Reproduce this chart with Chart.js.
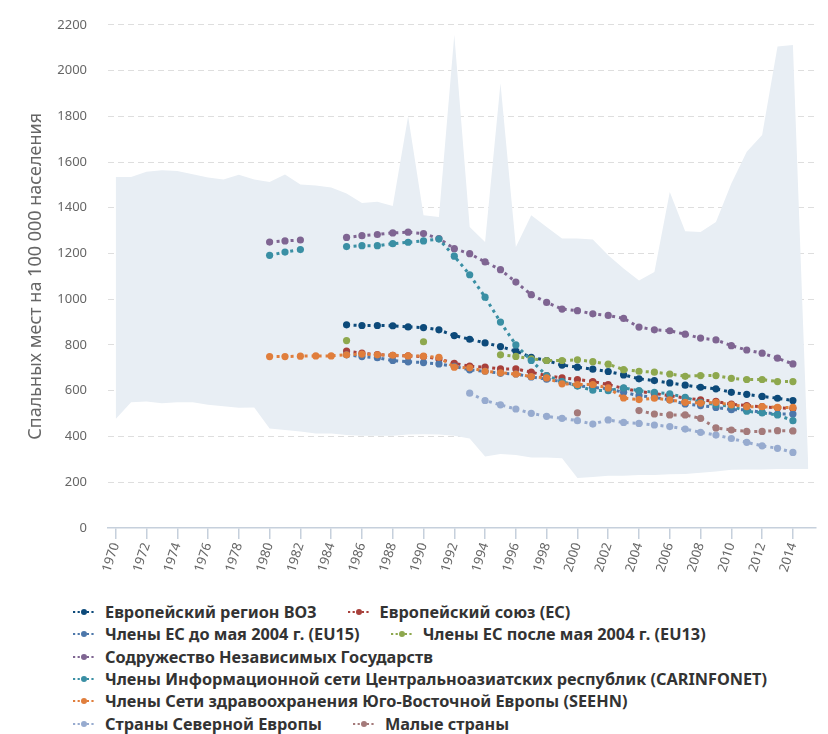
<!DOCTYPE html>
<html lang="ru">
<head>
<meta charset="utf-8">
<title>Спальные места на 100 000 населения</title>
<script src="https://cdn.jsdelivr.net/npm/chart.js@4.4.1/dist/chart.umd.min.js"></script>
<style>
  html, body { margin: 0; padding: 0; background: #fff; }
  body { width: 828px; height: 734px; position: relative; overflow: hidden; font-family: 'Noto Sans', sans-serif; }
  #wrap { position: absolute; left: 0; top: -4px; width: 828px; height: 592px; }
  #legend { position: absolute; left: 73px; top: 601px; width: 760px; display: flex; flex-wrap: wrap; column-gap: 31px; }
  .item { display: flex; align-items: center; height: 22.3px; font-weight: 700; font-size: 16.3px; color: #333; white-space: nowrap; }
  .item svg { margin-right: 10px; flex: none; }
</style>
</head>
<body>
<div id="wrap"><canvas id="chartCamas"></canvas></div>
<div id="legend"></div>
<script>
const years = ['1970', '1971', '1972', '1973', '1974', '1975', '1976', '1977', '1978', '1979',
    '1980', '1981', '1982', '1983', '1984', '1985', '1986', '1987', '1988', '1989',
    '1990', '1991', '1992', '1993', '1994', '1995', '1996', '1997', '1998', '1999',
    '2000', '2001', '2002', '2003', '2004', '2005', '2006', '2007', '2008', '2009',
    '2010', '2011', '2012', '2013', '2014', '2015'];

// диапазон по странам (макс / мин), 1970-2015
const rangeMax = [1534, 1534, 1557, 1564, 1561, 1547, 1532, 1523, 1544, 1523,
    1513, 1545, 1502, 1497, 1489, 1462, 1421, 1426, 1408, 1800,
    1367, 1360, 2156, 1316, 1250, 1944, 1228, 1367, 1316, 1265,
    1265, 1261, 1192, 1134, 1082, 1119, 1469, 1297, 1294, 1338,
    1506, 1645, 1718, 2105, 2112, 262];
const rangeMin = [476, 549, 553, 545, 549, 549, 538, 532, 525, 527,
    435, 428, 422, 413, 413, 406, 403, 403, 403, 408,
    410, 408, 403, 391, 312, 323, 319, 308, 308, 305,
    218, 223, 228, 228, 231, 231, 235, 236, 241, 247,
    254, 255, 255, 257, 257, 257];

const _ = null;
const whoEurope = [_, _, _, _, _, _, _, _, _, _,
    _, _, _, _, _, 888, 885, 885, 884, 879,
    876, 866, 841, 825, 809, 793, 773, 746, 732, 712,
    703, 694, 684, 669, 652, 644, 634, 624, 615, 608,
    593, 584, 575, 567, 557, _];
const eu = [_, _, _, _, _, _, _, _, _, _,
    _, _, _, _, _, 773, 764, 758, 754, 752,
    749, 739, 720, 707, 703, 695, 695, 681, 666, 656,
    649, 640, 627, 610, 597, 588, 578, 568, 560, 553,
    541, 535, 530, 525, 522, _];
const eu15 = [_, _, _, _, _, _, _, _, _, _,
    _, _, _, _, _, 757, 749, 744, 732, 726,
    723, 717, 706, 691, 685, 676, 673, 660, 650, 640,
    622, 615, 608, 593, 578, 571, 560, 542, 535, 527,
    517, 516, 505, 498, 498, _];
const eu13 = [_, _, _, _, _, _, _, _, _, _,
    _, _, _, _, _, 819, _, _, _, _,
    814, _, _, _, _, 757, 750, 739, 732, 732,
    735, 727, 716, 692, 685, 681, 673, 663, 666, 666,
    654, 649, 649, 640, 640, _];
const cis = [_, _, _, _, _, _, _, _, _, _,
    1250, 1255, 1259, _, _, 1270, 1278, 1283, 1290, 1293,
    1287, 1265, 1221, 1199, 1163, 1129, 1075, 1020, 986, 957,
    950, 936, 929, 916, 878, 866, 862, 847, 830, 822,
    797, 778, 764, 742, 717, _];
const carinfonet = [_, _, _, _, _, _, _, _, _, _,
    1192, 1206, 1217, _, _, 1230, 1234, 1234, 1243, 1249,
    1255, 1263, 1188, 1107, 1009, 900, 800, 732, 666, 640,
    620, 602, 600, 612, 600, 593, 586, 571, 549, 539,
    532, 510, 503, 494, 469, _];
const seehn = [_, _, _, _, _, _, _, _, _, _,
    749, 749, 751, 752, 752, 757, 760, 757, 755, 752,
    751, 746, 703, 700, 685, 678, 673, 662, 656, 630,
    627, 627, 612, 568, 561, 567, 560, 549, 546, 549,
    538, 530, 530, 527, 527, _];
const nordic = [_, _, _, _, _, _, _, _, _, _,
    _, _, _, _, _, _, _, _, _, _,
    _, _, _, 589, 557, 538, 520, 501, 488, 479,
    469, 454, 472, 461, 457, 450, 443, 432, 418, 406,
    391, 374, 359, 348, 330, _];
const smallStates = [_, _, _, _, _, _, _, _, _, _,
    _, _, _, _, _, _, _, _, _, _,
    _, _, _, _, _, _, _, _, _, _,
    503, _, _, _, 513, 498, 494, 494, 479, 437,
    428, 422, 422, 425, 424, _];

const series = [
    { label: 'Европейский регион ВОЗ', data: whoEurope, color: '#0d4a7a' },
    { label: 'Европейский союз (ЕС)', data: eu, color: '#a8403b' },
    { label: 'Члены ЕС до мая 2004 г. (EU15)', data: eu15, color: '#4d77aa' },
    { label: 'Члены ЕС после мая 2004 г. (EU13)', data: eu13, color: '#8ea84e' },
    { label: 'Содружество Независимых Государств', data: cis, color: '#7f6592' },
    { label: 'Члены Информационной сети Центральноазиатских республик (CARINFONET)', data: carinfonet, color: '#3a8fa4' },
    { label: 'Члены Сети здравоохранения Юго-Восточной Европы (SEEHN)', data: seehn, color: '#e07e3c' },
    { label: 'Страны Северной Европы', data: nordic, color: '#97abcf' },
    { label: 'Малые страны', data: smallStates, color: '#a47a7a' }
];

const axisColor = '#c6d0dc';
const bandColor = '#e8eef4';

const datasets = series.map((s, i) => ({
    label: s.label,
    data: s.data,
    borderColor: s.color,
    backgroundColor: s.color,
    borderWidth: 3,
    borderDash: [3, 4],
    pointRadius: 3.6,
    pointBorderWidth: 0,
    pointBackgroundColor: s.color,
    fill: false,
    tension: 0,
    order: series.length - i
}));

datasets.push({
    label: 'max',
    data: rangeMax,
    borderWidth: 0,
    pointRadius: 0,
    backgroundColor: bandColor,
    fill: '+1',
    order: 100
});
datasets.push({
    label: 'min',
    data: rangeMin,
    borderWidth: 0,
    pointRadius: 0,
    backgroundColor: bandColor,
    fill: false,
    order: 101
});

const ctx = document.getElementById('chartCamas').getContext('2d');
new Chart(ctx, {
    type: 'line',
    data: { labels: years, datasets: datasets },
    options: {
        responsive: true,
        maintainAspectRatio: false,
        animation: false,
        layout: { padding: { top: 10, right: 12, bottom: 12, left: 0 } },
        plugins: {
            legend: { display: false },
            tooltip: { enabled: false }
        },
        scales: {
            x: {
                type: 'category',
                offset: true,
                grid: { drawOnChartArea: false, drawTicks: true, tickLength: 11, color: axisColor, lineWidth: 1.5 },
                border: { display: true, color: axisColor, width: 1.5 },
                ticks: {
                    autoSkip: false,
                    minRotation: 72,
                    maxRotation: 72,
                    padding: 2,
                    color: '#666',
                    font: { family: 'Noto Sans', size: 13 },
                    callback: function (value, index) {
                        return index % 2 === 0 ? this.getLabelForValue(value) : null;
                    }
                }
            },
            y: {
                min: 0,
                max: 2200,
                ticks: {
                    stepSize: 200,
                    padding: 21,
                    color: '#666',
                    font: { family: 'Noto Sans', size: 13 },
                    callback: v => String(v)
                },
                grid: {
                    drawTicks: false,
                    color: c => (c.tick && c.tick.value === 0) ? 'rgba(0,0,0,0)' : '#dedede'
                },
                border: { display: false, dash: [6, 4] },
                title: {
                    display: true,
                    text: 'Спальных мест на 100 000 населения',
                    color: '#666',
                    font: { family: 'Noto Sans', size: 18 },
                    padding: { top: 25, bottom: 0 }
                },
                afterFit: function (scale) { scale.width = 108; }
            }
        }
    }
});

const legendBox = document.getElementById('legend');
series.forEach(s => {
    const item = document.createElement('div');
    item.className = 'item';
    item.innerHTML =
        '<svg width="22" height="8" viewBox="0 0 22 8">' +
        '<line x1="0" y1="4" x2="22" y2="4" stroke="' + s.color + '" stroke-width="2.2" stroke-dasharray="2.2 2.4"/>' +
        '<circle cx="11" cy="4" r="3" fill="' + s.color + '"/></svg>';
    const txt = document.createElement('span');
    txt.textContent = s.label;
    item.appendChild(txt);
    legendBox.appendChild(item);
});
</script>
</body>
</html>
